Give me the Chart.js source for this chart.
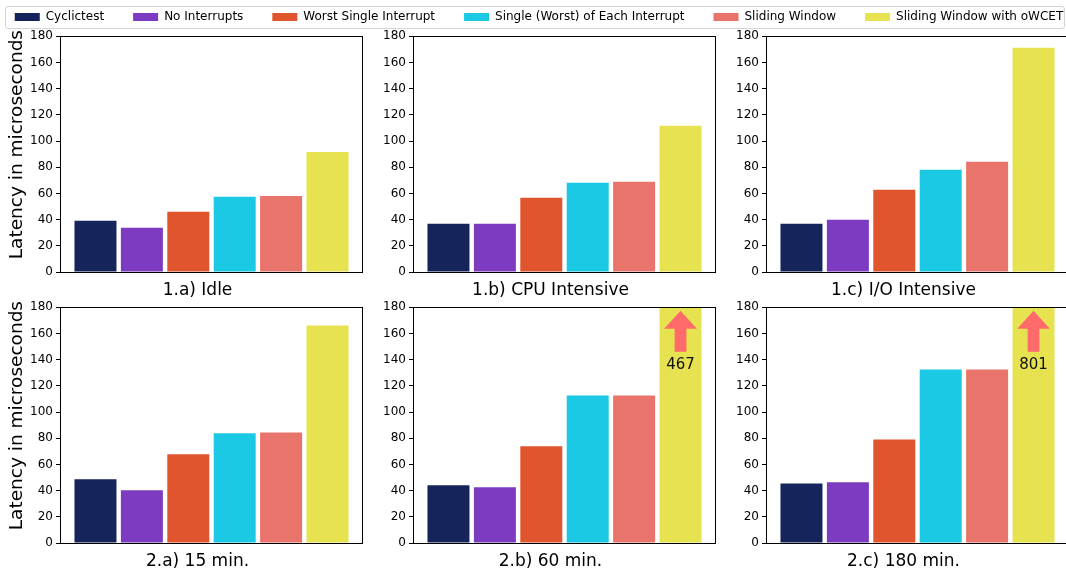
<!DOCTYPE html>
<html>
<head>
<meta charset="utf-8">
<script src="https://cdn.jsdelivr.net/npm/chart.js@4/dist/chart.umd.min.js"></script>
<style>
  html, body { margin:0; padding:0; background:#fff; }
  body { width:1066px; height:574px; position:relative; overflow:hidden; font-family:"DejaVu Sans", sans-serif; }
  canvas { position:absolute; }
  #legendFrame { position:absolute; left:5px; top:6px; width:1058px; height:21px; border:1px solid #d4d4d4; border-radius:3px; }
</style>
</head>
<body>
<div id="legendFrame"></div>
<script>
// ---- data ----
const seriesNames = ['Cyclictest', 'No Interrupts', 'Worst Single Interrupt', 'Single (Worst) of Each Interrupt', 'Sliding Window', 'Sliding Window with oWCET'];
const seriesColors = ['#15245a', '#7d3bc1', '#e0552d', '#1bc9e5', '#e9746b', '#e7e350'];
const panelTitles = ['1.a) Idle', '1.b) CPU Intensive', '1.c) I/O Intensive', '2.a) 15 min.', '2.b) 60 min.', '2.c) 180 min.'];
// values per panel (1.a, 1.b, 1.c, 2.a, 2.b, 2.c)
const cyclictest    = [39.1, 36.8, 36.8, 48.6, 44.0, 45.5];
const noInterrupts  = [33.7, 36.8, 39.9, 40.2, 42.5, 46.3];
const worstSingle   = [45.9, 56.7, 62.8, 67.7, 73.8, 79.1];
const singleEach    = [57.4, 68.1, 78.0, 83.7, 112.6, 132.5];
const slidingWindow = [58.1, 68.9, 84.1, 84.4, 112.6, 132.5];
const slidingOwcet  = [91.6, 111.6, 171.1, 166.0, 467, 801];
const yMin = 0, yMax = 180, yStep = 20;
const yTitle = 'Latency in microseconds';

const allSeries = [cyclictest, noInterrupts, worstSingle, singleEach, slidingWindow, slidingOwcet];
const FONT = '"DejaVu Sans", sans-serif';
Chart.defaults.font.family = FONT;
Chart.defaults.color = '#000';
Chart.defaults.animation = false;

// ---- layout ----
const colLeft = [60, 413, 766];   // chart-area left edges
const rowTop = [36, 307];         // chart-area top edges
const areaW = 303, areaH = 236, yAxisW = 60, xAxisH = 30, padTop = 10;

function makeCanvas(left, top, w, h) {
  const c = document.createElement('canvas');
  c.style.left = left + 'px'; c.style.top = top + 'px';
  c.style.width = w + 'px'; c.style.height = h + 'px';
  c.width = w; c.height = h;
  document.body.appendChild(c);
  return c;
}

// plugins
const boxPlugin = {
  id: 'frameBox',
  afterDatasetsDraw(chart) {
    const a = chart.chartArea, ctx = chart.ctx;
    ctx.save();
    ctx.strokeStyle = '#000'; ctx.lineWidth = 1;
    ctx.strokeRect(Math.round(a.left) + 0.5, Math.round(a.top) + 0.5, Math.round(a.right - a.left) - 1, Math.round(a.bottom - a.top));
    ctx.restore();
  }
};
const arrowPlugin = {
  id: 'overflowArrow',
  afterDatasetsDraw(chart) {
    const ctx = chart.ctx, y = chart.scales.y, top = chart.chartArea.top;
    chart.data.datasets.forEach((ds, i) => {
      const meta = chart.getDatasetMeta(i);
      ds.data.forEach((v, j) => {
        if (v <= y.max) return;
        const el = meta.data[j];
        const cx = el.x, w = el.width;
        const hw = w * 0.39, sw = w * 0.14;
        ctx.save();
        ctx.fillStyle = '#ff6b6b';
        ctx.beginPath();
        ctx.moveTo(cx, top + 3.5);
        ctx.lineTo(cx + hw, top + 21.5);
        ctx.lineTo(cx + sw, top + 21.5);
        ctx.lineTo(cx + sw, top + 44.5);
        ctx.lineTo(cx - sw, top + 44.5);
        ctx.lineTo(cx - sw, top + 21.5);
        ctx.lineTo(cx - hw, top + 21.5);
        ctx.closePath();
        ctx.fill();
        ctx.fillStyle = '#111';
        ctx.font = '15px ' + FONT;
        ctx.textAlign = 'center';
        ctx.textBaseline = 'alphabetic';
        ctx.fillText(String(v), cx, top + 62);
        ctx.restore();
      });
    });
  }
};
const labelPlugin = {
  id: 'axisLabels',
  afterDraw(chart, args, opts) {
    const a = chart.chartArea, ctx = chart.ctx;
    ctx.save();
    ctx.fillStyle = '#000';
    ctx.textAlign = 'center';
    ctx.font = '17px ' + FONT;
    ctx.textBaseline = 'alphabetic';
    ctx.fillText(opts.xText, (a.left + a.right) / 2 + opts.xdx, a.bottom + opts.xdy);
    if (opts.yText) {
      ctx.translate(a.left + opts.ydx, (a.top + a.bottom) / 2 + opts.ydy);
      ctx.rotate(-Math.PI / 2);
      ctx.font = '18.5px ' + FONT;
      ctx.textBaseline = 'middle';
      ctx.fillText(opts.yText, 0, 0);
    }
    ctx.restore();
  }
};

// ---- panels ----
panelTitles.forEach((title, p) => {
  const col = p % 3, row = Math.floor(p / 3);
  const cLeft = colLeft[col] - yAxisW;
  const cTop = rowTop[row] - padTop;
  const cW = yAxisW + areaW + 1;
  const cH = padTop + areaH + xAxisH;
  const canvas = makeCanvas(cLeft, cTop, cW, cH);
  new Chart(canvas, {
    type: 'bar',
    data: {
      labels: [''],
      datasets: seriesNames.map((name, s) => ({
        label: name,
        data: [allSeries[s][p]],
        backgroundColor: seriesColors[s],
        borderWidth: 0,
        categoryPercentage: 0.919,
        barPercentage: 0.905
      }))
    },
    options: {
      responsive: false,
      animation: false,
      events: [],
      layout: { padding: { top: padTop, right: 1, left: 0, bottom: 0 } },
      plugins: {
        legend: { display: false },
        tooltip: { enabled: false },
        axisLabels: { xText: title, xdx: -14, xdy: 23, yText: col === 0 ? yTitle : '', ydx: -43, ydy: -9.5 }
      },
      scales: {
        x: {
          type: 'category',
          offset: true,
          grid: { display: false },
          border: { display: false },
          ticks: { display: false },
          afterFit(s) { s.height = xAxisH; }
        },
        y: {
          min: yMin, max: yMax,
          ticks: { stepSize: yStep, font: { size: 12, family: FONT }, color: '#000', padding: 3 },
          grid: { display: true, drawOnChartArea: false, drawTicks: true, tickLength: 4, color: '#000' },
          border: { display: false },
          afterFit(s) { s.width = yAxisW; }
        }
      }
    },
    plugins: [arrowPlugin, boxPlugin, labelPlugin]
  });
});

// ---- legend ----
const legW = 1140, legPad = 29;
const legCanvas = makeCanvas(539 - legW / 2, 17 - legPad - 6, legW, 90);
new Chart(legCanvas, {
  type: 'bar',
  data: {
    labels: [''],
    datasets: seriesNames.map((name, s) => ({ label: name, data: [], backgroundColor: seriesColors[s], borderWidth: 0 }))
  },
  options: {
    responsive: false,
    animation: false,
    events: [],
    layout: { padding: 0 },
    scales: { x: { display: false }, y: { display: false } },
    plugins: {
      tooltip: { enabled: false },
      legend: {
        display: true,
        position: 'top',
        labels: { boxWidth: 25, boxHeight: 8, padding: legPad, color: '#000', font: { size: 12, family: FONT } }
      }
    }
  }
});
</script>
</body>
</html>
